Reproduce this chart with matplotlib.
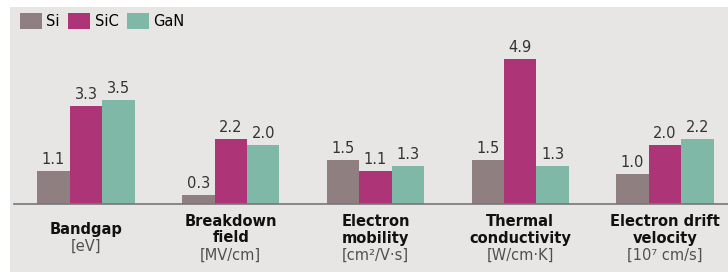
import matplotlib

matplotlib.use("Agg")

import matplotlib.pyplot as plt
from matplotlib.patches import Rectangle

categories = ["Bandgap", "Breakdown\nfield", "Electron\nmobility",
              "Thermal\nconductivity", "Electron drift\nvelocity"]
units = ["[eV]", "[MV/cm]", "[cm²/V·s]", "[W/cm·K]", "[10⁷ cm/s]"]
series = ["Si", "SiC", "GaN"]
si_values = [1.1, 0.3, 1.5, 1.5, 1.0]
sic_values = [3.3, 2.2, 1.1, 4.9, 2.0]
gan_values = [3.5, 2.0, 1.3, 1.3, 2.2]

colors = ["#8f7f80", "#ad3577", "#80b8a8"]
bg = "#e7e6e4"
px = 72 / 100  # points per pixel

fig = plt.figure(figsize=(7.28, 2.72), dpi=100, facecolor="white")
fig.patches.append(Rectangle((10 / 728, 0), 1, 265 / 272, transform=fig.transFigure,
                             facecolor=bg, edgecolor="none", zorder=-1))
ax = fig.add_axes([14 / 728, 68 / 272, 714 / 728, 197 / 272])
ax.set_facecolor("none")

width = 0.2245
xs = list(range(len(categories)))
for k, (name, vals) in enumerate(zip(series, [si_values, sic_values, gan_values])):
    pos = [x + (k - 1) * width for x in xs]
    bars = ax.bar(pos, vals, width, color=colors[k], label=name)
    for b, v in zip(bars, vals):
        ax.annotate(f"{v:.1f}", xy=(b.get_x() + b.get_width() / 2, v),
                    xytext=(0, 4 * px), textcoords="offset points",
                    ha="center", va="bottom", fontsize=10.5, color="#333333")

ax.set_xlim((14 - 86) / 144.75, (728 - 86) / 144.75)
ax.set_ylim(0, 197 / 29.6)
for s in ["top", "right", "left"]:
    ax.spines[s].set_visible(False)
ax.spines["bottom"].set_color("#777777")
ax.spines["bottom"].set_linewidth(1.2)
ax.set_xticks([])
ax.set_yticks([])

# category labels: bold name lines + unit line, block centred below the axis
pitch = 17
for x, cat, unit in zip(xs, categories, units):
    lines = cat.split("\n")
    n = len(lines) + 1
    for i, line in enumerate(lines + [unit]):
        off = 38.5 + (i - (n - 1) / 2) * pitch
        is_unit = i == n - 1
        ax.annotate(line, xy=(x, 0), xytext=(0, -off * px), textcoords="offset points",
                    ha="center", va="baseline", fontsize=10.5,
                    fontweight="normal" if is_unit else "bold",
                    color="#505050" if is_unit else "#111111")

ax.legend(loc="upper left", bbox_to_anchor=(0.0, 1.0), frameon=False, ncol=3,
          fontsize=10.5, handlelength=1.5, handleheight=1.35, handletextpad=0.3,
          columnspacing=0.6, borderaxespad=0.2, borderpad=0.2)

fig.savefig("out.png", dpi=100, facecolor="white")
